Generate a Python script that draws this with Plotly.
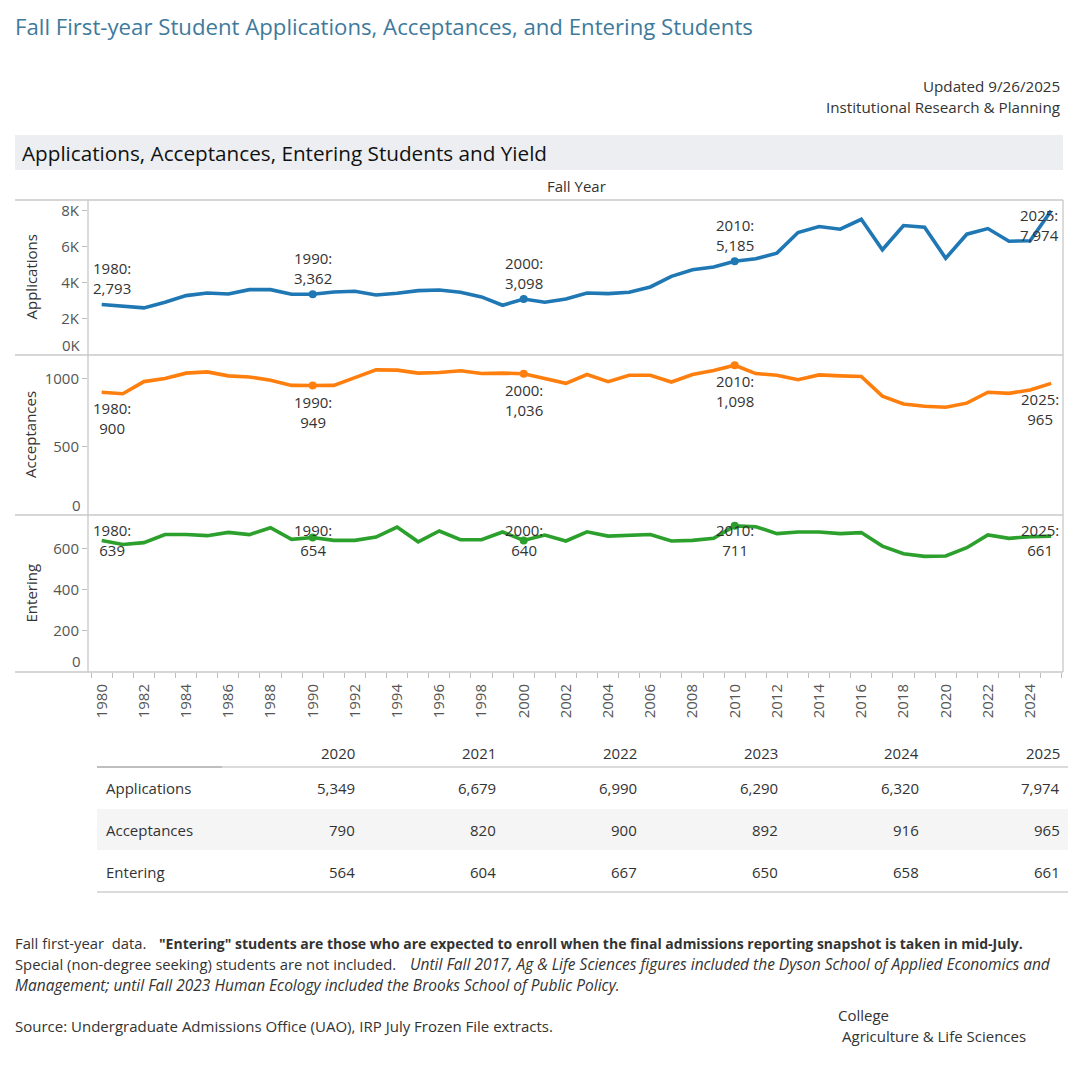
import plotly.graph_objects as go
from plotly.subplots import make_subplots

# ---------------- data ----------------
years = list(range(1980, 2026))
applications = [2793, 2697, 2606, 2918, 3285, 3431, 3376, 3615, 3615, 3358,
                3362, 3486, 3523, 3321, 3413, 3560, 3597, 3468, 3211, 2752,
                3098, 2918, 3101, 3431, 3395, 3468, 3762, 4349, 4716, 4863,
                5185, 5321, 5633, 6771, 7101, 6955, 7505, 5817, 7156, 7065,
                5349, 6679, 6990, 6290, 6320, 7974]
acceptances = [900, 889, 978, 1000, 1040, 1049, 1020, 1012, 988, 950,
               949, 950, 1007, 1064, 1062, 1040, 1045, 1057, 1037, 1040,
               1036, 1000, 965, 1030, 978, 1025, 1025, 975, 1030, 1059,
               1098, 1037, 1025, 992, 1027, 1020, 1015, 871, 814, 797,
               790, 820, 900, 892, 916, 965]
entering = [639, 620, 629, 669, 669, 663, 679, 668, 702, 645,
            654, 640, 640, 656, 705, 633, 686, 643, 643, 681,
            640, 666, 637, 682, 661, 666, 669, 637, 640, 650,
            711, 707, 673, 681, 681, 673, 678, 612, 575, 562,
            564, 604, 667, 650, 658, 661]

series_names = ["Applications", "Acceptances", "Entering"]
series_values = [applications, acceptances, entering]
series_colors = ["#1f77b4", "#ff7f0e", "#2ca02c"]
label_years = [1980, 1990, 2000, 2010, 2025]
marker_years = [1990, 2000, 2010]
table_years = years[-6:]

y_tickvals = [[2000, 4000, 6000, 8000], [500, 1000], [200, 400, 600]]
y_ticktext = [["2K", "4K", "6K", "8K"], ["500", "1000"], ["200", "400", "600"]]
y_zero_text = ["0K", "0", "0"]
y_ranges = [[0, 8570], [0, 1173], [-3, 764]]
# label placement for each series: 'above', 'below', 'top' (clamped to pane top)
label_modes = [["above", "above", "above", "above", "top"],
               ["below"] * 5,
               ["top"] * 5]

# ---------------- layout helpers ----------------
# the page body has an 8px margin; figure is sized so it ends at the window edge
OFF = 8
W = H = 1080 - OFF
def X(p):
    return (p - OFF) / W
def Y(p):
    return 1 - (p - OFF) / H

FONT = "Open Sans"
TXT = "#333333"

fig = make_subplots(rows=3, cols=1, shared_xaxes=True, vertical_spacing=0)

panel_px = [(200, 355), (355, 515), (515, 672)]
x_left, x_right = 88, 1063
x_range = [1979.35, 2025.56]

for i, (name, vals, col) in enumerate(zip(series_names, series_values, series_colors)):
    r = i + 1
    fig.add_trace(go.Scatter(x=years, y=vals, mode="lines",
                             line=dict(color=col, width=3.6),
                             hoverinfo="x+y", showlegend=False), row=r, col=1)
    mx = [y for y in years if y in marker_years]
    my = [vals[years.index(y)] for y in mx]
    fig.add_trace(go.Scatter(x=mx, y=my, mode="markers",
                             marker=dict(color=col, size=8),
                             hoverinfo="skip", showlegend=False), row=r, col=1)

    yname = "yaxis" if i == 0 else f"yaxis{r}"
    xname = "xaxis" if i == 0 else f"xaxis{r}"
    top, bot = panel_px[i]
    fig.layout[yname].update(domain=[Y(bot), Y(top)], range=y_ranges[i],
                             showgrid=False, zeroline=False, showline=False,
                             tickvals=y_tickvals[i], ticktext=y_ticktext[i],
                             ticks="outside", ticklen=5, tickcolor="#bdbdbd",
                             tickfont=dict(family=FONT, size=15, color="#555555"))
    fig.layout[xname].update(domain=[X(x_left), X(x_right)], range=x_range,
                             showgrid=False, zeroline=False, showline=False)
    if r < 3:
        fig.layout[xname].update(showticklabels=False, ticks="")

    yref = "y" if i == 0 else f"y{r}"
    xref = "x" if i == 0 else f"x{r}"
    # y-axis title
    fig.add_annotation(text=name, textangle=-90, xref="paper", yref="paper",
                       x=X(30), y=Y((top + bot) / 2), xanchor="center", yanchor="middle",
                       showarrow=False, font=dict(family=FONT, size=15, color=TXT))
    # zero tick label (shifted up like the reference)
    fig.add_annotation(text=y_zero_text[i], xref="paper", yref=yref,
                       x=X(83), y=0, xanchor="right", yanchor="middle",
                       yshift=10, showarrow=False,
                       font=dict(family=FONT, size=15, color="#555555"))
    # data labels
    for ly, mode in zip(label_years, label_modes[i]):
        v = vals[years.index(ly)]
        txt_ = f"{ly}:<br>{v:,}"
        if ly == years[0]:
            xanchor, xshift = "left", -11
        elif ly == years[-1]:
            xanchor, xshift = "right", 10
        else:
            xanchor, xshift = "center", 0
        if mode == "above":
            yv, yanchor, yshift = v, "bottom", 4
        elif mode == "below":
            yv, yanchor, yshift = v, "top", -4
        else:
            yv, yanchor, yshift = y_ranges[i][1], "top", -3
        fig.add_annotation(text=txt_, xref=xref, yref=yref, x=ly, y=yv,
                           xanchor=xanchor, yanchor=yanchor, align="center",
                           xshift=xshift, yshift=yshift, showarrow=False,
                           font=dict(family=FONT, size=15, color=TXT))

fig.layout.xaxis3.update(tickvals=years[::2], ticktext=[str(y) for y in years[::2]],
                         tickangle=-90, ticks="outside", ticklen=5,
                         tickcolor="rgba(0,0,0,0)",
                         tickfont=dict(family=FONT, size=15, color="#555555"),
                         minor=dict(tickmode="linear", tick0=1979.5, dtick=1,
                                    ticks="outside", ticklen=5, tickcolor="#bdbdbd"))

# ---------------- shapes (frame, bands, table lines) ----------------
shapes = []
LINE = "#c8c8c8"
shapes.append(dict(type="rect", xref="paper", yref="paper", x0=X(15), x1=X(1063),
                   y0=Y(170), y1=Y(135), fillcolor="#eceef1", line=dict(width=0), layer="below"))
for yy in [200, 355, 515, 672]:
    shapes.append(dict(type="line", xref="paper", yref="paper", x0=X(15), x1=X(1063),
                       y0=Y(yy), y1=Y(yy), line=dict(color=LINE, width=1.3)))
for xx in [x_left, x_right]:
    shapes.append(dict(type="line", xref="paper", yref="paper", x0=X(xx), x1=X(xx),
                       y0=Y(200), y1=Y(672), line=dict(color=LINE, width=1.3)))
# table
shapes.append(dict(type="rect", xref="paper", yref="paper", x0=X(97), x1=X(1068),
                   y0=Y(850), y1=Y(809), fillcolor="#f5f5f5", line=dict(width=0), layer="below"))
shapes.append(dict(type="line", xref="paper", yref="paper", x0=X(97), x1=X(1068),
                   y0=Y(767), y1=Y(767), line=dict(color="#cfcfcf", width=1.3)))
shapes.append(dict(type="line", xref="paper", yref="paper", x0=X(97), x1=X(222),
                   y0=Y(767), y1=Y(767), line=dict(color="#b5b5b5", width=1.3)))
shapes.append(dict(type="line", xref="paper", yref="paper", x0=X(97), x1=X(1068),
                   y0=Y(892), y1=Y(892), line=dict(color="#cfcfcf", width=1.3)))

# ---------------- texts ----------------
def txt(text, x, y, size=14, color=TXT, xanchor="left", yanchor="middle", family=FONT):
    fig.add_annotation(text=text, xref="paper", yref="paper", x=X(x), y=Y(y),
                       xanchor=xanchor, yanchor=yanchor, showarrow=False,
                       font=dict(family=family, size=size, color=color))

txt("Fall First-year Student Applications, Acceptances, and Entering Students",
    13, 27, size=22.2, color="#3f7a9c")
txt("Updated 9/26/2025", 1062, 86, size=15.2, xanchor="right")
txt("Institutional Research &amp; Planning", 1062, 107, size=15.2, xanchor="right")
txt("Applications, Acceptances, Entering Students and Yield", 20, 153, size=20.7, color="#111111")
txt("Fall Year", 576, 186, size=15, xanchor="center")

# table
col_right = [357 + 141 * k for k in range(len(table_years))]
row_y = [788, 830, 872]
for k, ty in enumerate(table_years):
    txt(str(ty), col_right[k], 753, size=15, xanchor="right")
for name, vals, ry in zip(series_names, series_values, row_y):
    txt(name, 104, ry, size=15)
    for k, ty in enumerate(table_years):
        txt(f"{vals[years.index(ty)]:,}", col_right[k], ry, size=15, xanchor="right")

# footer
txt("Fall first-year \u00a0data.", 13, 943, size=14.8)
txt("<b>\"Entering\" students are those who are expected to enroll when the final admissions reporting snapshot is taken in mid-July.</b>",
    157, 943, size=14)
txt("Special (non-degree seeking) students are not included.", 13, 964, size=14.8)
txt("<i>Until Fall 2017, Ag &amp; Life Sciences figures included the Dyson School of Applied Economics and</i>",
    408, 964, size=15.5)
txt("<i>Management; until Fall 2023 Human Ecology included the Brooks School of Public Policy.</i>",
    13, 985, size=15.5)
txt("Source: Undergraduate Admissions Office (UAO), IRP July Frozen File extracts.",
    13, 1026, size=15)
txt("College", 836, 1015, size=15)
txt("Agriculture &amp; Life Sciences", 840, 1036, size=15)

fig.update_layout(width=W, height=H, autosize=False,
                  margin=dict(l=0, r=0, t=0, b=0),
                  paper_bgcolor="white", plot_bgcolor="white",
                  shapes=shapes, showlegend=False,
                  font=dict(family=FONT, color=TXT))

fig.write_html("out.html")
